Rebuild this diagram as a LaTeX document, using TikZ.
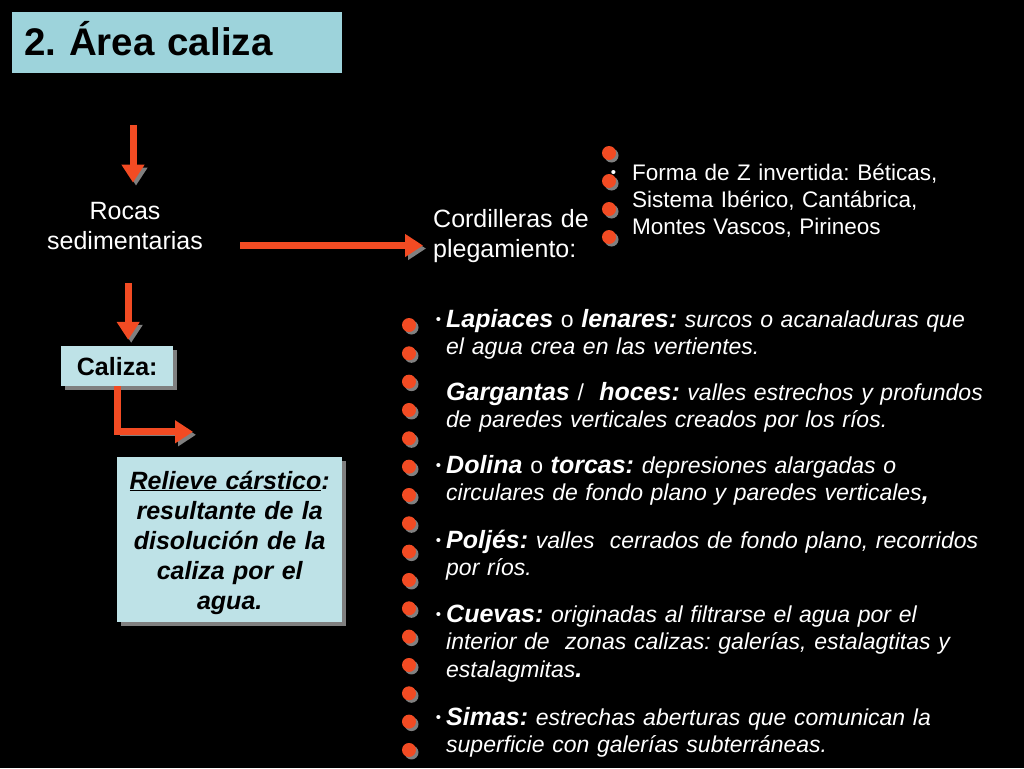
\documentclass[tikz,border=0pt]{standalone}
\usepackage{fontspec}
\setmainfont{Liberation Sans}
\usetikzlibrary{arrows.meta}

\definecolor{naranja}{RGB}{242,75,35}
\definecolor{sombra}{RGB}{128,128,128}
\definecolor{celeste}{RGB}{157,211,219}
\definecolor{celesteclaro}{RGB}{190,226,231}

% palabras clave y vinetas de las listas
\newcommand{\clave}[1]{{\fontsize{25}{27.5}\selectfont\bfseries\itshape #1}}
\newcommand{\vineta}[1]{\llap{\raisebox{2.5pt}{\fontsize{15}{15}\selectfont\textbullet}\hspace{#1}}}

\tikzset{
  flecha/.style={draw=naranja, line width=7pt, -{Triangle[width=22pt,length=18pt]},
    preaction={draw=sombra, transform canvas={shift={(3pt,-3pt)}}}},
  caja/.style={fill=celesteclaro, inner sep=0pt,
    preaction={fill=sombra, transform canvas={shift={(4pt,-4pt)}}}},
  punto/.style={fill=naranja, preaction={fill=sombra, transform canvas={shift={(2.5pt,-2.5pt)}}}},
  texto/.style={text=white, inner sep=0pt, font=\fontsize{25}{30}\selectfont},
  lista/.style={text=white, inner sep=0pt, anchor=base west, text width=570pt, align=left,
    font=\fontsize{23}{27.5}\selectfont},
}

\begin{document}
\frenchspacing
\begin{tikzpicture}[x=1pt,y=-1pt]
\useasboundingbox[fill=black] (0,0) rectangle (1024,768);

% Titulo
\node[fill=celeste, inner sep=0pt, anchor=base west, text width=330pt, text height=44pt, text depth=17pt,
  font=\bfseries\fontsize{38.5}{44}\selectfont] (titulo) at (12,56) {\hspace*{12pt}2. Área caliza};

% Esquema de la izquierda
\node[texto, anchor=base, text width=180pt, align=center] (rocas) at (125,219) {Rocas\\sedimentarias};
\node[texto, anchor=base west, text width=170pt, align=left] (cord) at (433,227) {Cordilleras de\\plegamiento:};
\node[caja, anchor=base west, text width=112pt, text height=29pt, text depth=11pt, align=center,
  font=\bfseries\fontsize{25}{31}\selectfont] (caliza) at (61,375) {Caliza:};
\node[caja, anchor=base west, text width=225pt, text height=32pt, text depth=133pt, align=center,
  font=\bfseries\itshape\fontsize{25}{30}\selectfont] (relieve) at (117,489)
  {\underline{Relieve cárstico}:\\resultante de la\\disolución de la\\caliza por el\\agua.};

% Flechas
\coordinate (ini1) at (133,125);
\draw[flecha, shorten >=19pt] (ini1) -- (ini1 |- rocas.north);
\draw[flecha, shorten <=25pt, shorten >=10pt] ([yshift=-20pt]rocas.east) -- ([yshift=-20pt]rocas.east -| cord.west);
\draw[flecha, shorten <=34pt, shorten >=6pt] ([xshift=11pt]caliza.north |- rocas.south) -- ([xshift=11pt]caliza.north);
\draw[flecha] (caliza.south) |- ([xshift=76pt,yshift=25pt]relieve.north west);

% Puntos
\foreach \i in {0,...,3}
  \fill[punto] (609,{153+28*\i}) circle (7pt);
\foreach \i in {0,...,15}
  \fill[punto] (409,{325+28.33*\i}) circle (7pt);

% Lista de las cordilleras
\node[text=white, inner sep=0pt, anchor=base west, text width=380pt, align=left,
  font=\fontsize{22.5}{27}\selectfont] (formas) at (632,180)
  {\vineta{16pt}Forma de Z invertida: Béticas,\\Sistema Ibérico, Cantábrica,\\Montes Vascos, Pirineos};

% Lista de las formas carsticas
\node[lista] (lapiaces) at (446,327)
  {\vineta{5pt}\clave{Lapiaces} o \clave{lenares:} \textit{surcos o acanaladuras que}\\\textit{el agua crea en las vertientes.}};
\node[lista] (gargantas) at (446,400)
  {\clave{Gargantas} /\ \ \clave{hoces:} \textit{valles estrechos y profundos}\\\textit{de paredes verticales creados por los ríos.}};
\node[lista] (dolina) at (446,473)
  {\vineta{5pt}\clave{Dolina} o \clave{torcas:} \textit{depresiones alargadas o}\\\textit{circulares de fondo plano y paredes verticales}\clave{,}};
\node[lista] (poljes) at (446,548)
  {\vineta{5pt}\clave{Poljés:} \textit{valles\ \ cerrados de fondo plano, recorridos}\\\textit{por ríos.}};
\node[lista] (cuevas) at (446,622)
  {\vineta{5pt}\clave{Cuevas:} \textit{originadas al filtrarse el agua por el}\\\textit{interior de\ \ zonas calizas: galerías, estalagtitas y}\\\textit{estalagmitas}\clave{.}};
\node[lista] (simas) at (446,725)
  {\vineta{5pt}\clave{Simas:} \textit{estrechas aberturas que comunican la}\\\textit{superficie con galerías subterráneas.}};

\end{tikzpicture}
\end{document}
